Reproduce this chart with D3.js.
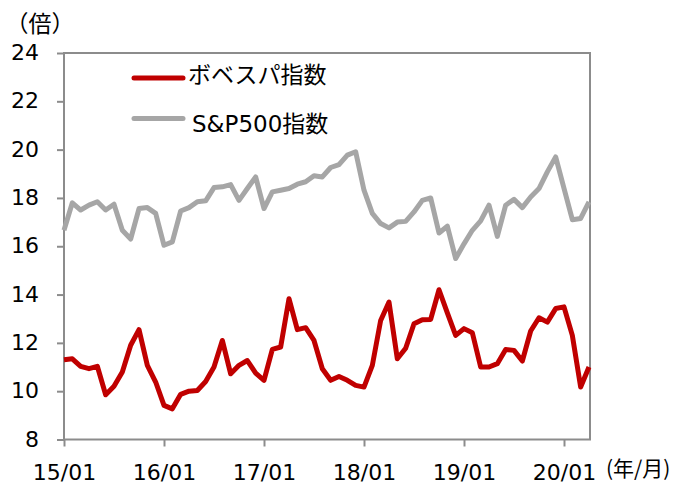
<!DOCTYPE html>
<html>
<head>
<meta charset="utf-8">
<script src="https://cdn.jsdelivr.net/npm/d3@7"></script>
<style>
  body { margin: 0; background: #fff; }
  svg text { font-family: 'DejaVu Sans', 'Noto Sans CJK JP', sans-serif; fill: #000; }
  .cjk { font-family: 'Noto Sans CJK JP', sans-serif; }
</style>
</head>
<body>
<div id="chart"></div>
<script>
// monthly, 2015/01 - 2020/04
const years = [15, 16, 17, 18, 19, 20];
const months = [];
years.forEach((y) => {
  for (let m = 1; m <= 12; m++) {
    if (y === 20 && m > 4) break;
    months.push(`${y}/${String(m).padStart(2, '0')}`);
  }
});

const tickLabels = ['15/01', '16/01', '17/01', '18/01', '19/01', '20/01'];
const yTicks = [8, 10, 12, 14, 16, 18, 20, 22, 24];

const bovespa = [
  11.30, 11.34, 11.03, 10.93, 11.03, 9.85, 10.20, 10.79, 11.90, 12.55, 11.07, 10.38,
  9.41, 9.27, 9.87, 10.00, 10.03, 10.40, 11.00, 12.10, 10.72, 11.07, 11.27, 10.75,
  10.45, 11.73, 11.83, 13.83, 12.55, 12.63, 12.10, 10.93, 10.45, 10.61, 10.45, 10.24,
  10.17, 11.07, 12.93, 13.69, 11.34, 11.78, 12.79, 12.96, 12.97, 14.20, 13.24, 12.31,
  12.59, 12.42, 11.00, 11.00, 11.14, 11.73, 11.69, 11.25, 12.49, 13.04, 12.86, 13.42,
  13.49, 12.31, 10.17, 11.00
];

const sp500 = [
  16.66, 17.80, 17.50, 17.70, 17.84, 17.50, 17.74, 16.66, 16.30, 17.56, 17.60, 17.36,
  16.04, 16.18, 17.46, 17.60, 17.84, 17.88, 18.43, 18.46, 18.55, 17.90, 18.39, 18.87,
  17.56, 18.25, 18.32, 18.39, 18.57, 18.67, 18.92, 18.87, 19.26, 19.38, 19.77, 19.91,
  18.32, 17.36, 16.94, 16.76, 17.00, 17.03, 17.42, 17.90, 18.00, 16.55, 16.83, 15.49,
  16.10, 16.66, 17.05, 17.70, 16.41, 17.70, 17.94, 17.60, 18.04, 18.39, 19.08, 19.70,
  18.40, 17.10, 17.15, 17.84
];

const series = [
  { name: 'ボベスパ指数', values: bovespa, color: '#c00000' },
  { name: 'S&P500指数', values: sp500, color: '#a6a6a6' },
];

// Graph dimensions
const width = 676;
const height = 485;
const plot = { left: 64, right: 589, top: 53, bottom: 439.5 };
const axisColor = '#8c8c8c';

const svg = d3
  .select('#chart')
  .append('svg')
  .attr('width', width)
  .attr('height', height);

// Scales
const x = d3.scalePoint().domain(months).range([plot.left, plot.right]);
const y = d3.scaleLinear().domain([8, 24]).range([plot.bottom, plot.top]);

// plot box
svg
  .append('rect')
  .attr('x', plot.left)
  .attr('y', plot.top)
  .attr('width', plot.right - plot.left + 1)
  .attr('height', plot.bottom - plot.top)
  .attr('fill', 'none')
  .attr('stroke', axisColor)
  .attr('stroke-width', 2);

// Y axis
const yAxis = svg
  .append('g')
  .attr('transform', `translate(${plot.left},0)`)
  .call(d3.axisLeft(y).tickValues(yTicks).tickSize(7).tickSizeOuter(0).tickPadding(18));
yAxis.select('.domain').remove();
yAxis.selectAll('line').attr('stroke', axisColor).attr('stroke-width', 2);
yAxis.selectAll('text').attr('font-size', 22).attr('dy', '0.3em');

// X axis
const xAxis = svg
  .append('g')
  .attr('transform', `translate(0,${plot.bottom})`)
  .call(d3.axisBottom(x).tickValues(tickLabels).tickSize(7).tickSizeOuter(0));
xAxis.select('.domain').remove();
xAxis.selectAll('line').attr('stroke', axisColor).attr('stroke-width', 2);
xAxis.selectAll('text').attr('font-size', 22).attr('y', 40.5).attr('dy', 0);

// unit labels
svg
  .append('text')
  .attr('class', 'cjk')
  .attr('x', 40)
  .attr('y', 32)
  .attr('text-anchor', 'middle')
  .attr('font-size', 23)
  .text('（倍）');

svg
  .append('text')
  .attr('class', 'cjk')
  .attr('x', 606)
  .attr('y', 476)
  .attr('font-size', 21)
  .text('(年/月)');

// Lines
const line = d3
  .line()
  .x((d, i) => x(months[i]))
  .y((d) => y(d));

series
  .slice()
  .reverse()
  .forEach((s) => {
    svg
      .append('path')
      .datum(s.values)
      .attr('fill', 'none')
      .attr('stroke', s.color)
      .attr('stroke-width', 5)
      .attr('stroke-linejoin', 'round')
      .attr('d', line);
  });

// Legend
const legendY = [78, 118.5];
const legendText = [83, 132];
series.forEach((s, i) => {
  svg
    .append('line')
    .attr('x1', 134)
    .attr('x2', 183)
    .attr('y1', legendY[i])
    .attr('y2', legendY[i])
    .attr('stroke', s.color)
    .attr('stroke-width', 5)
    .attr('stroke-linecap', 'round');
  svg
    .append('text')
    .attr('x', i === 0 ? 188 : 192)
    .attr('y', legendText[i])
    .attr('font-size', 23)
    .text(s.name);
});
</script>
</body>
</html>
